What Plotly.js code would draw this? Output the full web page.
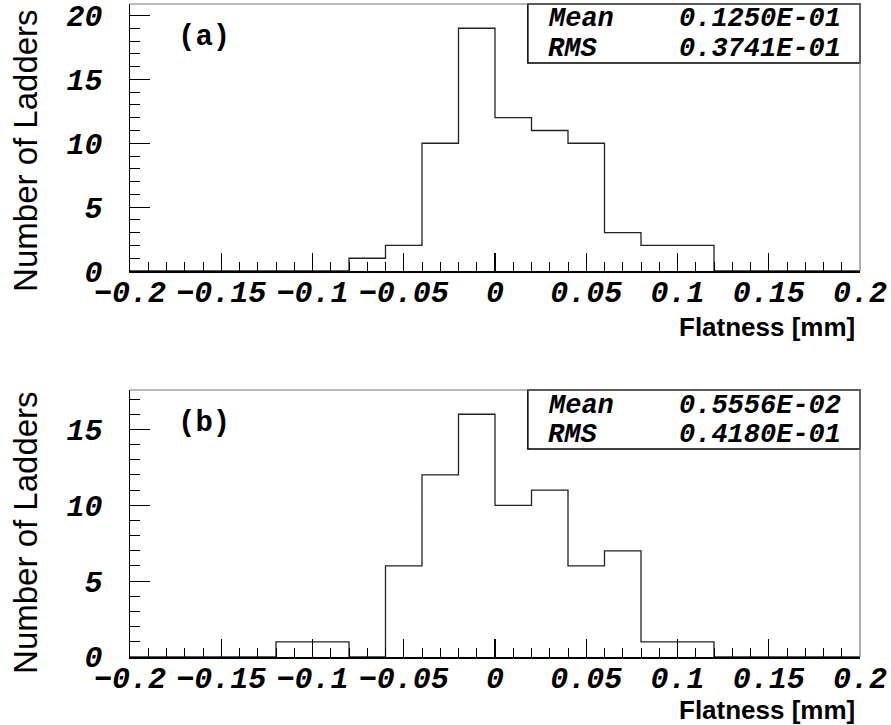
<!DOCTYPE html>
<html>
<head>
<meta charset="utf-8">
<script src="https://cdn.plot.ly/plotly-3.0.1.min.js"></script>
<style>html,body{margin:0;padding:0;background:#fff;}#chart{width:891px;height:725px;}</style>
</head>
<body>
<div id="chart"></div>
<script>
// Bin edges (mm), 0.02 mm wide
const binEdges = [-0.20,-0.18,-0.16,-0.14,-0.12,-0.10,-0.08,-0.06,-0.04,-0.02,0.00,0.02,0.04,0.06,0.08,0.10,0.12,0.14,0.16,0.18,0.20];
// Counts per bin
const countsA = [0,0,0,0,0,0,1,2,10,19,12,11,10,3,2,2,0,0,0,0];
const countsB = [0,0,0,0,1,1,0,6,12,16,10,11,6,7,1,1,0,0,0,0];
// Tick labels
const xTickVals = [-0.2,-0.15,-0.1,-0.05,0,0.05,0.1,0.15,0.2];
const xTickText = ["\u22120.2","\u22120.15","\u22120.1","\u22120.05","0","0.05","0.1","0.15","0.2"];
const yTickValsA = [0,5,10,15,20];
const yTickValsB = [0,5,10,15];
// Statistics
const statsA = {mean:"0.1250E-01", rms:"0.3741E-01"};
const statsB = {mean:"0.5556E-02", rms:"0.4180E-01"};
const panelLabels = ["(a)","(b)"];
const xTitle = "Flatness [mm]";
const yTitle = "Number of Ladders";

function stepY(c){ return c.concat([c[c.length-1]]); }

const lineStyle = {color:'#222', width:1.3, shape:'hv'};
const traces = [
  {x: binEdges, y: stepY(countsA), type:'scatter', mode:'lines', line: lineStyle, xaxis:'x', yaxis:'y', hoverinfo:'skip'},
  {x: binEdges, y: stepY(countsB), type:'scatter', mode:'lines', line: lineStyle, xaxis:'x2', yaxis:'y2', hoverinfo:'skip'}
];

const tickFont = {family:'"Liberation Mono", "DejaVu Sans Mono", monospace', size:30, color:'#000', weight:'bold', style:'italic'};

function xAxis(anchor){
  return {
    anchor: anchor, domain:[0,1], range:[-0.2,0.2], fixedrange:true,
    tickmode:'array', tickvals:xTickVals, ticktext:xTickText,
    ticks:'inside', ticklen:18, tickwidth:1.2, tickcolor:'#000',
    minor:{dtick:0.01, tick0:0, ticks:'inside', ticklen:9, tickwidth:1, tickcolor:'#000'},
    showgrid:false, zeroline:false, showline:true, linecolor:'#000', linewidth:1.5,
    tickfont: tickFont, ticklabelstandoff: -7
  };
}
function yAxis(anchor, domain, maxv, tv){
  return {
    anchor: anchor, domain: domain, range:[0,maxv], fixedrange:true,
    tickmode:'array', tickvals:tv, ticktext:tv.map(String),
    ticks:'inside', ticklen:20, tickwidth:1.2, tickcolor:'#000',
    minor:{dtick:1, tick0:0, ticks:'inside', ticklen:10, tickwidth:1, tickcolor:'#000'},
    showgrid:false, zeroline:false, showline:true, linecolor:'#000', linewidth:1.5,
    tickfont: tickFont, ticklabelstandoff: 20
  };
}

const statFont = {family:'"Liberation Mono", monospace', size:27, color:'#000', weight:'bold', style:'italic'};
const labelFont = {family:'"Liberation Mono", monospace', size:29, color:'#000', weight:'bold'};
const yTitleFont = {family:'"Liberation Sans", Arial, sans-serif', size:33, color:'#000'};
const xTitleFont = {family:'"Liberation Sans", Arial, sans-serif', size:26, color:'#000', weight:'bold'};

const annotations = [];
const shapes = [];
[['x','y',statsA,panelLabels[0],0.944,0.831,0.876],['x2','y2',statsB,panelLabels[1],0.940,0.831,0.873]].forEach(p=>{
  const xr = p[0]+' domain', yr = p[1]+' domain';
  shapes.push({type:'rect', xref:xr, yref:yr, x0:0.545, x1:1, y0:0.779, y1:1, line:{color:'#000', width:1.5}, fillcolor:'#fff', layer:'above'});
  shapes.push({type:'line', xref:xr, yref:yr, x0:0, x1:1, y0:1, y1:1, line:{color:'#777', width:1.2}});
  shapes.push({type:'line', xref:xr, yref:yr, x0:1, x1:1, y0:0, y1:1, line:{color:'#777', width:1.2}});
  annotations.push({xref:xr, yref:yr, x:0.57, y:p[4], xanchor:'left', yanchor:'middle', text:'Mean', showarrow:false, font:statFont});
  annotations.push({xref:xr, yref:yr, x:0.977, y:p[4], xanchor:'right', yanchor:'middle', text:p[2].mean, showarrow:false, font:statFont});
  annotations.push({xref:xr, yref:yr, x:0.57, y:p[5], xanchor:'left', yanchor:'middle', text:'RMS', showarrow:false, font:statFont});
  annotations.push({xref:xr, yref:yr, x:0.977, y:p[5], xanchor:'right', yanchor:'middle', text:p[2].rms, showarrow:false, font:statFont});
  annotations.push({xref:xr, yref:yr, x:0.101, y:p[6], xanchor:'center', yanchor:'middle', text:p[3], showarrow:false, font:labelFont});
});
// axis titles
annotations.push({xref:'paper', yref:'paper', x:-0.1425, y:0.775, xanchor:'center', yanchor:'middle', textangle:-90, text:yTitle, showarrow:false, font:yTitleFont});
annotations.push({xref:'paper', yref:'paper', x:-0.1425, y:0.190, xanchor:'center', yanchor:'middle', textangle:-90, text:yTitle, showarrow:false, font:yTitleFont});
annotations.push({xref:'paper', yref:'paper', x:0.996, y:0.506, xanchor:'right', yanchor:'middle', text:xTitle, showarrow:false, font:xTitleFont});
annotations.push({xref:'paper', yref:'paper', x:0.996, y:-0.081, xanchor:'right', yanchor:'middle', text:xTitle, showarrow:false, font:xTitleFont});

const layout = {
  width:891, height:725,
  margin:{l:130, r:31, t:4, b:68},
  paper_bgcolor:'#fff', plot_bgcolor:'#fff',
  showlegend:false,
  xaxis: xAxis('y'),
  yaxis: yAxis('x', [0.5911,1], 20.9, yTickValsA),
  xaxis2: xAxis('y2'),
  yaxis2: yAxis('x2', [0,0.4089], 17.6, yTickValsB),
  shapes: shapes,
  annotations: annotations
};
Plotly.newPlot('chart', traces, layout, {displayModeBar:false, staticPlot:true});
</script>
</body>
</html>
